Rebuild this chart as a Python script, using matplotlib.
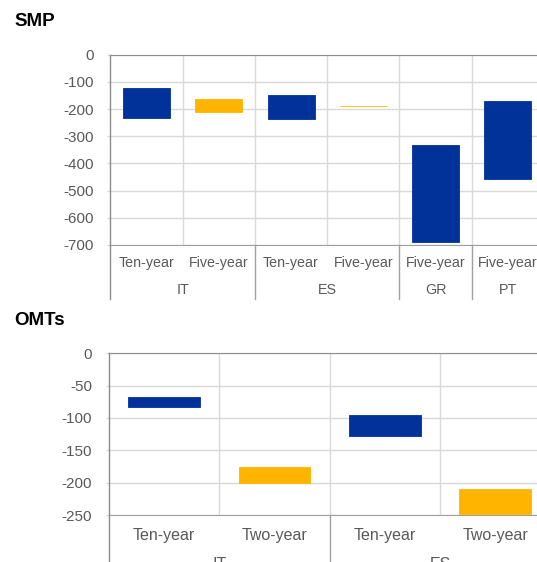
import matplotlib.pyplot as plt
from matplotlib.transforms import blended_transform_factory

plt.rcParams['font.family'] = ['Liberation Sans', 'DejaVu Sans']
plt.rcParams['axes.unicode_minus'] = False

AZUL = '#003299'
AMARILLO = '#ffb400'
GRIS_TXT = '#595959'
GRIS_GRID = '#d9d9d9'
GRIS_EJE = '#a0a0a0'

# Datos SMP (rangos de impacto, puntos básicos)
smp_plazos = ['Ten-year', 'Five-year', 'Ten-year', 'Five-year', 'Five-year', 'Five-year']
smp_paises = ['IT', 'ES', 'GR', 'PT']
smp_n_por_pais = [2, 2, 1, 1]
smp_min = [-231, -209, -235, -190, -690, -457]
smp_max = [-124, -163, -148, -188, -332, -170]
smp_serie = [0, 1, 0, 1, 0, 0]
smp_yticks = [0, -100, -200, -300, -400, -500, -600, -700]

# Datos OMTs
omt_plazos = ['Ten-year', 'Two-year', 'Ten-year', 'Two-year']
omt_paises = ['IT', 'ES']
omt_n_por_pais = [2, 2]
omt_min = [-83, -201, -128, -248]
omt_max = [-68, -175, -96, -209]
omt_serie = [0, 1, 0, 1]
omt_yticks = [0, -50, -100, -150, -200, -250]

W, H = 537, 562
fig = plt.figure(figsize=(W / 100, H / 100), dpi=100)


def fy(px):
    # pixel vertical -> fracción de figura
    return 1 - px / H


def panel(rect_px, plazos, paises, n_por_pais, vmin, vmax, serie, yticks,
          fila1, fila2, fondo, fs_cat):
    x0, y0, x1, y1 = rect_px
    ax = fig.add_axes([x0 / W, fy(y1), (x1 - x0) / W, (y1 - y0) / H])
    n = len(plazos)
    xs = list(range(n))
    colores = [AZUL if s == 0 else AMARILLO for s in serie]
    alturas = [hi - lo for lo, hi in zip(vmin, vmax)]
    ax.bar(xs, alturas, bottom=vmin, width=0.65, color=colores,
           edgecolor=colores, linewidth=0.6, zorder=3)
    ax.set_xlim(-0.5, n - 0.5)
    ax.set_ylim(min(yticks), 0)
    ax.set_yticks(yticks)
    ax.set_xticks([])
    ax.tick_params(axis='y', length=2, width=1, color=GRIS_GRID, pad=10,
                   labelsize=11, labelcolor=GRIS_TXT)
    ax.yaxis.grid(True, color=GRIS_GRID, lw=1)
    for b in range(1, n):
        ax.axvline(b - 0.5, color=GRIS_GRID, lw=1, zorder=1)
    ax.spines['right'].set_visible(False)
    ax.spines['left'].set_visible(False)
    ax.spines['top'].set_color('#8c8c8c')
    ax.spines['bottom'].set_color(GRIS_EJE)

    tr = blended_transform_factory(ax.transData, fig.transFigure)
    for x, lab in zip(xs, plazos):
        fig.text(x, fy(fila1), lab, transform=tr, ha='center', va='center',
                 fontsize=fs_cat, color=GRIS_TXT)
    # separadores de país y etiquetas de país
    limites = [-0.5]
    for k in n_por_pais:
        limites.append(limites[-1] + k)
    for i, pais in enumerate(paises):
        centro = (limites[i] + limites[i + 1]) / 2
        fig.text(centro, fy(fila2), pais, transform=tr, ha='center', va='center',
                 fontsize=fs_cat, color=GRIS_TXT)
    for b in limites:
        inicio = y0 if b == -0.5 else y1
        color = '#8c8c8c' if b == -0.5 else GRIS_EJE
        ax.plot([b, b], [fy(inicio), fy(fondo)], transform=tr,
                color=color, lw=1, clip_on=False, zorder=4)
    return ax


panel((110.3, 54.8, 544, 244.9), smp_plazos, smp_paises, smp_n_por_pais,
      smp_min, smp_max, smp_serie, smp_yticks, 262.7, 290.4, 299, 10.3)
panel((108.9, 353.1, 550.5, 515.1), omt_plazos, omt_paises, omt_n_por_pais,
      omt_min, omt_max, omt_serie, omt_yticks, 535.6, 564.5, 575, 11.5)

fig.text(14 / W, fy(22), 'SMP', fontsize=13.5, fontweight='bold', va='center')
fig.text(14 / W, fy(320.5), 'OMTs', fontsize=13.5, fontweight='bold', va='center')

plt.savefig('out.png', dpi=100)
